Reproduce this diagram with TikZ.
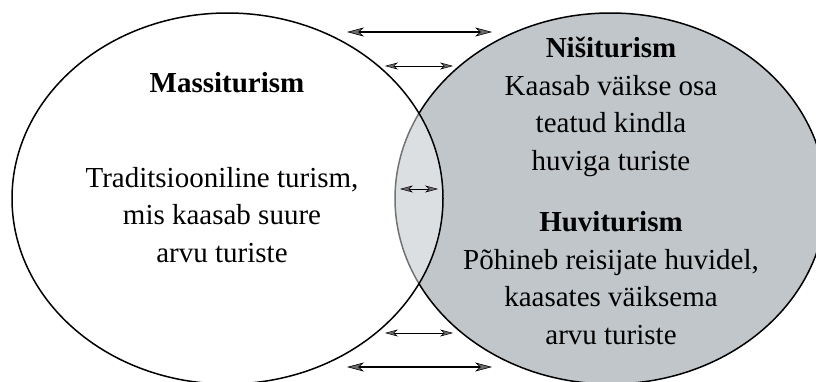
\documentclass[tikz,border=0pt]{standalone}
\usepackage{fontspec}
\setmainfont{Liberation Serif}
\usetikzlibrary{arrows.meta}
\definecolor{nichegray}{RGB}{193,198,202}
\definecolor{tipgray}{RGB}{112,106,110}

\begin{document}
\begin{tikzpicture}[x=1pt,y=-1pt,
    txt/.style={align=center,anchor=base,font=\fontsize{29}{37.5}\selectfont},
    bigarrow/.style={line width=1.3pt,
        >={Stealth[length=17pt,width=9pt,inset=5pt,fill=tipgray,line width=0.6pt]},<->},
    smallarrow/.style={line width=0.9pt,
        >={Stealth[length=13pt,width=7pt,inset=4pt,fill=tipgray,line width=0.5pt]},<->}]
    \useasboundingbox (0,0) rectangle (816,381);
    \clip (0,0) rectangle (816,381);
    \draw[line width=1.5pt,fill=nichegray] (610.5,198.5) ellipse [x radius=215.5pt,y radius=185.5pt];
    \draw[line width=1.5pt,fill=white,fill opacity=0.45] (227.5,198.5) ellipse [x radius=215.5pt,y radius=185.5pt];
    \foreach \y/\xa/\xb/\s [count=\i] in {32/347/492/bigarrow,66/385/453/smallarrow,
        189/400/438/smallarrow,333/385/453/smallarrow,367/347/492/bigarrow}
    {
        \coordinate (l\i) at (\xa,\y);
        \coordinate (r\i) at (\xb,\y);
        \draw[\s] (l\i) -- (r\i);
    }
    % base anchor sits on the last line
    \node[txt] (mass) at (227,92) {\textbf{Massiturism}};
    \node[txt] (masstext) at (222,262) {Traditsiooniline turism,\\mis kaasab suure\\arvu turiste};
    \node[txt] (niche) at (611,170) {\textbf{Nišiturism}\\Kaasab väikse osa\\teatud kindla\\huviga turiste};
    \node[txt] (interest) at (611,344) {\textbf{Huviturism}\\Põhineb reisijate huvidel,\\kaasates väiksema\\arvu turiste};
\end{tikzpicture}
\end{document}
